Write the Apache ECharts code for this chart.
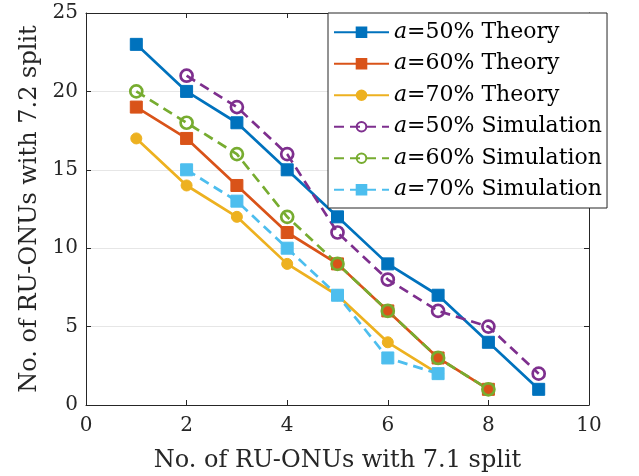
<!DOCTYPE html>
<html>
<head>
<meta charset="utf-8">
<script src="https://cdn.jsdelivr.net/npm/echarts@6/dist/echarts.min.js"></script>
<style>html,body{margin:0;padding:0;background:#fff}#c{width:639px;height:476px}</style>
</head>
<body>
<div id="c"></div>
<script>
var xTheory50 = [1, 2, 3, 4, 5, 6, 7, 8, 9];
var yTheory50 = [23, 20, 18, 15, 12, 9, 7, 4, 1];
var xTheory60 = [1, 2, 3, 4, 5, 6, 7, 8];
var yTheory60 = [19, 17, 14, 11, 9, 6, 3, 1];
var xTheory70 = [1, 2, 3, 4, 5, 6, 7];
var yTheory70 = [17, 14, 12, 9, 7, 4, 2];
var xSim50 = [2, 3, 4, 5, 6, 7, 8, 9];
var ySim50 = [21, 19, 16, 11, 8, 6, 5, 2];
var xSim60 = [1, 2, 3, 4, 5, 6, 7, 8];
var ySim60 = [20, 18, 16, 12, 9, 6, 3, 1];
var xSim70 = [2, 3, 4, 5, 6, 7];
var ySim70 = [15, 13, 10, 7, 3, 2];
var seriesNames = ['a=50% Theory', 'a=60% Theory', 'a=70% Theory',
                   'a=50% Simulation', 'a=60% Simulation', 'a=70% Simulation'];
var xTicks = [0, 2, 4, 6, 8, 10];
var yTicks = [0, 5, 10, 15, 20, 25];

function pairs(xs, ys) { return xs.map(function (x, i) { return [x, ys[i]]; }); }

var FONT = 'DejaVu Serif';
var AX = '#262626';
var chart = echarts.init(document.getElementById('c'), null, {renderer: 'canvas'});

function mk(name, xs, ys, color, symbol, filled, dashed, size) {
  return {
    name: name, type: 'line', data: pairs(xs, ys),
    xAxisIndex: 0, yAxisIndex: 0,
    symbol: symbol, symbolSize: size, showSymbol: true,
    lineStyle: {color: color, width: 2.7, type: dashed ? [10, 6] : 'solid'},
    itemStyle: {color: filled ? color : 'rgba(0,0,0,0)', borderColor: color, borderWidth: filled ? 1 : 2.7},
    emphasis: {disabled: true},
    animation: false
  };
}

var baseX = {
  type: 'value', min: xTicks[0], max: xTicks[xTicks.length - 1], interval: 2,
  axisLine: {show: true, onZero: false, lineStyle: {color: AX, width: 1}},
  axisTick: {show: true, inside: true, length: 5, lineStyle: {color: AX}},
  splitLine: {show: false}
};
var baseY = {
  type: 'value', min: yTicks[0], max: yTicks[yTicks.length - 1], interval: 5,
  axisLine: {show: true, onZero: false, lineStyle: {color: AX, width: 1}},
  axisTick: {show: true, inside: true, length: 5, lineStyle: {color: AX}},
  splitLine: {show: false}
};

var option = {
  backgroundColor: '#fff',
  animation: false,
  grid: {left: 86, right: 50, top: 13, bottom: 71, containLabel: false, outerBoundsMode: 'none'},
  xAxis: [
    Object.assign({}, baseX, {
      position: 'bottom',
      name: 'No. of RU-ONUs with 7.1 split', nameLocation: 'middle', nameGap: 44,
      nameTextStyle: {fontFamily: FONT, fontSize: 24, color: AX},
      axisLabel: {fontFamily: FONT, fontSize: 20, color: AX, margin: 11}
    }),
    Object.assign({}, baseX, {position: 'top', axisLabel: {show: false}})
  ],
  yAxis: [
    Object.assign({}, baseY, {
      position: 'left',
      name: 'No. of RU-ONUs with 7.2 split', nameLocation: 'middle', nameGap: 42,
      nameTextStyle: {fontFamily: FONT, fontSize: 24, color: AX},
      axisLabel: {fontFamily: FONT, fontSize: 20, color: AX, margin: 8},
      splitLine: {show: true, lineStyle: {color: '#e6e6e6', width: 1}}
    }),
    Object.assign({}, baseY, {position: 'right', axisLabel: {show: false}})
  ],
  legend: {
    orient: 'vertical', left: 328, top: 13,
    backgroundColor: '#fff', borderColor: AX, borderWidth: 1,
    padding: [8, 5, 7, 5],
    itemWidth: 55, itemHeight: 12, itemGap: 9,
    data: seriesNames,
    formatter: function (n) { return '{i|a}' + n.slice(1); },
    textStyle: {fontFamily: FONT, fontSize: 22, color: '#000', lineHeight: 22.5,
      rich: {i: {fontFamily: FONT, fontSize: 22, fontStyle: 'italic', color: '#000', lineHeight: 22.5}}}
  },
  series: [
    mk(seriesNames[0], xTheory50, yTheory50, '#0072BD', 'rect', true, false, 12),
    mk(seriesNames[1], xTheory60, yTheory60, '#D95319', 'rect', true, false, 12),
    mk(seriesNames[2], xTheory70, yTheory70, '#EDB120', 'circle', true, false, 11),
    mk(seriesNames[3], xSim50, ySim50, '#7E2F8E', 'circle', false, true, 12),
    mk(seriesNames[4], xSim60, ySim60, '#77AC30', 'circle', false, true, 12),
    mk(seriesNames[5], xSim70, ySim70, '#4DBEEE', 'rect', true, true, 12)
  ]
};
chart.setOption(option);
</script>
</body>
</html>
